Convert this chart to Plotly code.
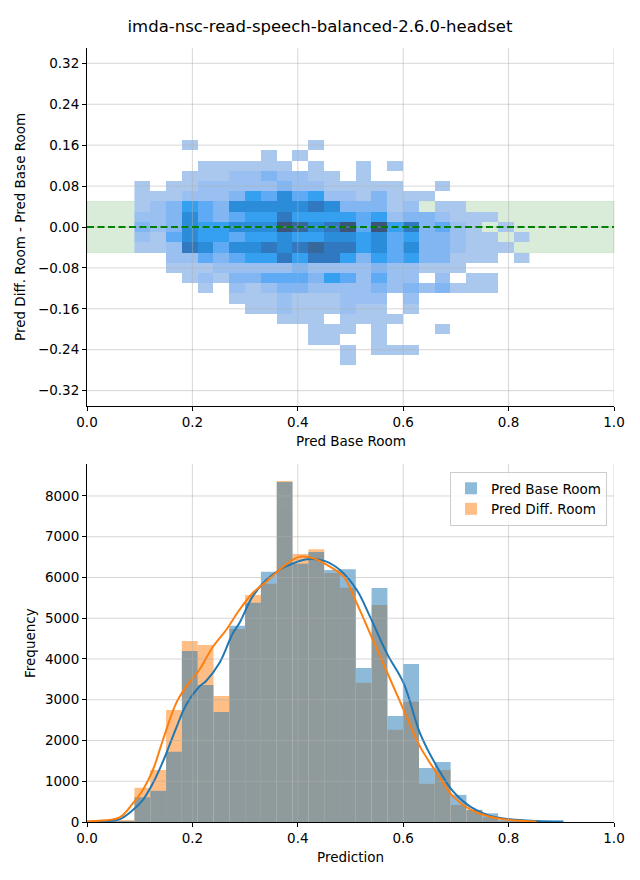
import plotly.graph_objects as go

# ---------------- data ----------------
title_text = "imda-nsc-read-speech-balanced-2.6.0-headset"

heat_x_centers = [0.105, 0.135, 0.165, 0.195, 0.225, 0.255, 0.285, 0.315, 0.345, 0.375,
                  0.405, 0.435, 0.465, 0.495, 0.525, 0.555, 0.585, 0.615, 0.645, 0.675,
                  0.705, 0.735, 0.765, 0.795, 0.825]
heat_y_centers = [0.16, 0.14, 0.12, 0.10, 0.08, 0.06, 0.04, 0.02, 0.00, -0.02, -0.04,
                  -0.06, -0.08, -0.10, -0.12, -0.14, -0.16, -0.18, -0.20, -0.22, -0.24, -0.26]
heat_levels = [
    [0,0,0,1,0,0,0,0,0,0,0,1,0,0,0,0,0,0,0,0,0,0,0,0,0],
    [0,0,0,0,0,0,0,0,1,0,1,0,0,0,0,0,0,0,0,0,0,0,0,0,0],
    [0,0,0,0,1,1,1,1,1,1,0,1,0,0,1,0,1,0,0,0,0,0,0,0,0],
    [0,0,0,1,1,1,2,2,3,2,2,1,1,0,1,0,0,0,0,0,0,0,0,0,0],
    [1,0,1,1,2,2,2,2,2,3,2,2,1,1,1,1,1,0,0,1,0,0,0,0,0],
    [1,1,1,2,2,2,3,5,4,6,4,5,2,2,1,3,1,1,1,0,0,0,0,0,0],
    [1,2,3,5,4,3,6,6,6,6,6,7,6,3,3,3,1,2,0,1,1,0,0,0,0],
    [2,2,3,6,4,3,4,5,5,7,5,5,5,5,4,5,2,3,3,2,1,1,1,0,0],
    [3,2,3,6,5,5,6,6,6,9,8,6,7,9,4,9,5,7,3,4,2,1,0,1,0],
    [2,1,4,6,5,5,4,5,5,6,5,5,6,6,5,6,4,5,3,3,2,1,1,0,1],
    [1,1,2,7,6,4,6,6,7,6,7,8,7,7,5,6,4,6,3,3,2,1,1,1,0],
    [0,0,2,2,4,3,4,5,5,7,5,7,7,5,3,5,4,5,3,3,1,1,1,0,1],
    [0,0,1,1,1,2,2,2,2,2,3,2,2,2,2,3,2,2,1,1,1,0,0,0,0],
    [0,0,0,1,2,1,3,3,4,4,4,3,5,4,2,4,2,2,0,2,0,1,1,0,0],
    [0,0,0,0,1,0,2,1,2,3,3,2,2,2,2,3,2,3,2,3,1,1,1,0,0],
    [0,0,0,0,0,0,1,1,1,2,1,1,1,2,2,2,0,2,0,0,0,0,0,0,0],
    [0,0,0,0,0,0,0,1,1,2,1,1,1,2,1,1,0,1,0,0,0,0,0,0,0],
    [0,0,0,0,0,0,0,0,0,1,1,1,0,1,1,1,1,0,0,0,0,0,0,0,0],
    [0,0,0,0,0,0,0,0,0,0,0,1,1,1,0,1,0,0,0,1,0,0,0,0,0],
    [0,0,0,0,0,0,0,0,0,0,0,1,1,0,0,1,0,0,0,0,0,0,0,0,0],
    [0,0,0,0,0,0,0,0,0,0,0,0,0,1,0,1,1,1,0,0,0,0,0,0,0],
    [0,0,0,0,0,0,0,0,0,0,0,0,0,1,0,0,0,0,0,0,0,0,0,0,0],
]
band_low, band_high = -0.05, 0.05

# bottom panel: histograms
hist_bin_centers = [0.015, 0.045, 0.075, 0.105, 0.135, 0.165, 0.195, 0.225, 0.255, 0.285,
                    0.315, 0.345, 0.375, 0.405, 0.435, 0.465, 0.495, 0.525, 0.555, 0.585,
                    0.615, 0.645, 0.675, 0.705, 0.735, 0.765, 0.795, 0.825, 0.855, 0.885]
base_counts = [0, 2, 8, 606, 765, 1726, 4196, 3362, 2700, 4815,
               5380, 6140, 8345, 6340, 6626, 6184, 6205, 3779, 5742, 2601,
               3877, 1325, 1472, 665, 300, 213, 35, 15, 8, 4]
diff_counts = [15, 25, 45, 840, 1276, 2748, 4442, 4344, 3092, 4736,
               5571, 5849, 8370, 6577, 6692, 6110, 5750, 3420, 5325, 2262,
               2950, 937, 1276, 420, 290, 118, 20, 6, 0, 0]

kde_base_x = [0.0, 0.011, 0.061, 0.087, 0.106, 0.125, 0.144, 0.169, 0.188, 0.213, 0.226,
              0.251, 0.276, 0.289, 0.314, 0.340, 0.365, 0.390, 0.417, 0.449, 0.480, 0.512,
              0.537, 0.569, 0.601, 0.632, 0.664, 0.695, 0.727, 0.765, 0.803, 0.853, 0.904]
kde_base_y = [5, 10, 65, 294, 540, 949, 1480, 2299, 2871, 3321, 3460,
              3894, 4613, 4876, 5530, 5939, 6184, 6340, 6446, 6413, 6184, 5693,
              5039, 4139, 3403, 2176, 1358, 744, 376, 147, 65, 25, 10]
kde_diff_x = [0.0, 0.011, 0.061, 0.087, 0.106, 0.125, 0.144, 0.169, 0.188, 0.213, 0.239,
              0.264, 0.289, 0.314, 0.340, 0.365, 0.390, 0.404, 0.430, 0.461, 0.487, 0.512,
              0.537, 0.569, 0.601, 0.632, 0.664, 0.695, 0.727, 0.765, 0.803, 0.853]
kde_diff_y = [10, 25, 106, 458, 785, 1276, 2012, 2912, 3321, 3730, 4302,
              4712, 5202, 5612, 5897, 6184, 6430, 6511, 6470, 6266, 6020, 5366,
              4630, 3689, 2748, 1849, 1194, 622, 311, 131, 50, 10]

x_ticks = [0.0, 0.2, 0.4, 0.6, 0.8, 1.0]
top_y_ticks = [-0.32, -0.24, -0.16, -0.08, 0.0, 0.08, 0.16, 0.24, 0.32]
bottom_y_ticks = [0, 1000, 2000, 3000, 4000, 5000, 6000, 7000, 8000]

# ---------------- styling ----------------
FONT = "DejaVu Sans"
TICK_SIZE = 13.5
BLUE = "#1f77b4"
ORANGE = "#ff7f0e"
GRID = "rgba(176,176,176,0.5)"

W, H = 640, 880
ML, MR, MT, MB = 87, 26, 48, 58
PW = W - ML - MR
PH = H - MT - MB


def px_to_paper_y(py):
    return (H - MB - py) / PH


def px_to_paper_x(px):
    return (px - ML) / PW


heat_z = [[(v if v > 0 else None) for v in row] for row in heat_levels]

colorscale = [
    [0.0, "#aac8ee"],
    [0.125, "#99c0f0"],
    [0.25, "#82b6f2"],
    [0.375, "#5eaaf4"],
    [0.5, "#36a0f0"],
    [0.625, "#2b8dda"],
    [0.75, "#3079c0"],
    [0.875, "#36689c"],
    [1.0, "#3c5478"],
]

fig = go.Figure()

fig.add_trace(go.Heatmap(
    x=heat_x_centers, y=heat_y_centers, z=heat_z,
    colorscale=colorscale, zmin=1, zmax=9, showscale=False,
    hoverinfo="skip", xaxis="x", yaxis="y",
))

fig.add_trace(go.Bar(
    x=hist_bin_centers, y=diff_counts, width=0.03, name="Pred Diff. Room",
    marker=dict(color=ORANGE, line=dict(width=0)), opacity=0.5,
    xaxis="x2", yaxis="y2", legendrank=2,
))
fig.add_trace(go.Bar(
    x=hist_bin_centers, y=base_counts, width=0.03, name="Pred Base Room",
    marker=dict(color=BLUE, line=dict(width=0)), opacity=0.5,
    xaxis="x2", yaxis="y2", legendrank=1,
))
fig.add_trace(go.Scatter(
    x=kde_base_x, y=kde_base_y, mode="lines", line=dict(color=BLUE, width=2, shape="spline"),
    showlegend=False, xaxis="x2", yaxis="y2", hoverinfo="skip",
))
fig.add_trace(go.Scatter(
    x=kde_diff_x, y=kde_diff_y, mode="lines", line=dict(color=ORANGE, width=2, shape="spline"),
    showlegend=False, xaxis="x2", yaxis="y2", hoverinfo="skip",
))

shapes = []
# green tolerance band
shapes.append(dict(type="rect", xref="x domain", yref="y", x0=0, x1=1, y0=band_low, y1=band_high,
                   fillcolor="rgba(0,128,0,0.15)", line=dict(color="rgba(0,128,0,0.12)", width=1),
                   layer="below"))
# grid lines drawn above the data (as in the reference)
for v in x_ticks[1:]:
    shapes.append(dict(type="line", xref="x", yref="y domain", x0=v, x1=v, y0=0, y1=1,
                       line=dict(color=GRID, width=1), layer="above"))
    shapes.append(dict(type="line", xref="x2", yref="y2 domain", x0=v, x1=v, y0=0, y1=1,
                       line=dict(color=GRID, width=1), layer="above"))
for v in top_y_ticks:
    shapes.append(dict(type="line", xref="x domain", yref="y", x0=0, x1=1, y0=v, y1=v,
                       line=dict(color=GRID, width=1), layer="above"))
for v in bottom_y_ticks[1:]:
    shapes.append(dict(type="line", xref="x2 domain", yref="y2", x0=0, x1=1, y0=v, y1=v,
                       line=dict(color=GRID, width=1), layer="above"))
# zero reference line
shapes.append(dict(type="line", xref="x domain", yref="y", x0=0, x1=1, y0=0, y1=0,
                   line=dict(color="green", width=2, dash="7px,3.5px"), layer="above"))

axis_common = dict(
    showline=True, linecolor="black", linewidth=1, mirror=False,
    ticks="outside", ticklen=4, tickwidth=1, tickcolor="black",
    showgrid=False, zeroline=False,
    tickfont=dict(family=FONT, size=TICK_SIZE, color="black"),
)

top_dom = [px_to_paper_y(406), 1.0]
bot_dom = [0.0, px_to_paper_y(464)]

fig.update_layout(
    width=W, height=H,
    margin=dict(l=ML, r=MR, t=MT, b=MB),
    paper_bgcolor="white", plot_bgcolor="white",
    font=dict(family=FONT, size=TICK_SIZE, color="black"),
    barmode="overlay",
    showlegend=True,
    title=dict(text=title_text, x=0.5, xref="container", xanchor="center",
               y=1 - 26 / H, yref="container", yanchor="middle",
               font=dict(family=FONT, size=16.5, color="black")),
    xaxis=dict(axis_common, domain=[0, 1], anchor="y", range=[0, 1],
               tickvals=x_ticks, tickformat=".1f"),
    yaxis=dict(axis_common, domain=top_dom, anchor="x", range=[-0.35, 0.35],
               tickvals=top_y_ticks, tickformat=".2f"),
    xaxis2=dict(axis_common, domain=[0, 1], anchor="y2", range=[0, 1],
                tickvals=x_ticks, tickformat=".1f"),
    yaxis2=dict(axis_common, domain=bot_dom, anchor="x2", range=[0, 8785],
                tickvals=bottom_y_ticks, tickformat="d"),
    legend=dict(x=px_to_paper_x(607), xanchor="right", y=px_to_paper_y(472), yanchor="top",
                xref="paper", yref="paper",
                bgcolor="rgba(255,255,255,0.8)", bordercolor="#cccccc", borderwidth=1,
                font=dict(family=FONT, size=TICK_SIZE, color="black"),
                traceorder="normal"),
    shapes=shapes,
    annotations=[
        dict(text="Pred Base Room", xref="paper", yref="paper", x=0.5, y=px_to_paper_y(441),
             xanchor="center", yanchor="middle", showarrow=False,
             font=dict(family=FONT, size=TICK_SIZE, color="black")),
        dict(text="Prediction", xref="paper", yref="paper", x=0.5, y=px_to_paper_y(857),
             xanchor="center", yanchor="middle", showarrow=False,
             font=dict(family=FONT, size=TICK_SIZE, color="black")),
        dict(text="Pred Diff. Room - Pred Base Room", xref="paper", yref="paper",
             x=px_to_paper_x(20), y=px_to_paper_y(227), textangle=-90,
             xanchor="center", yanchor="middle", showarrow=False,
             font=dict(family=FONT, size=TICK_SIZE, color="black")),
        dict(text="Frequency", xref="paper", yref="paper",
             x=px_to_paper_x(30), y=px_to_paper_y(643), textangle=-90,
             xanchor="center", yanchor="middle", showarrow=False,
             font=dict(family=FONT, size=TICK_SIZE, color="black")),
    ],
)

fig.write_html("out.html",
               config={"displayModeBar": False},
               post_script="document.body.style.margin='0';document.body.style.padding='0';")
